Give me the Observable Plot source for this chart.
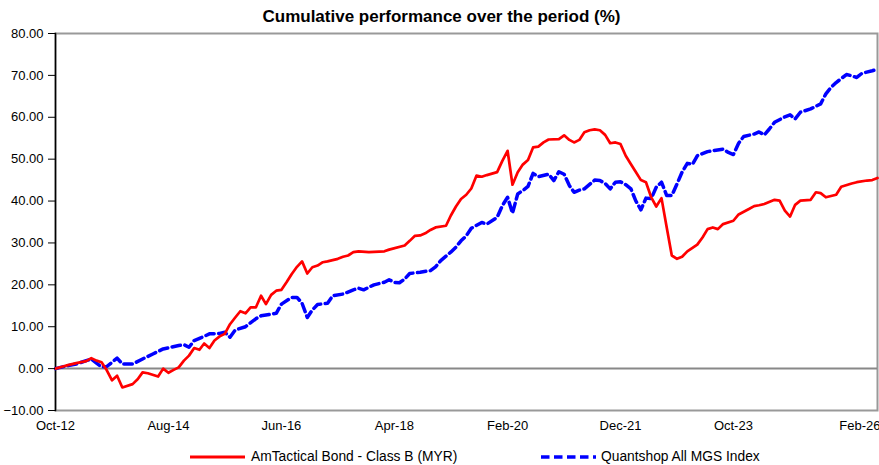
<!DOCTYPE html>
<html><head><meta charset="utf-8">
<script src="https://cdn.jsdelivr.net/npm/d3@7"></script>
<script src="https://cdn.jsdelivr.net/npm/@observablehq/plot@0.6"></script>
<style>
body{margin:0;background:#fff;font-family:"Liberation Sans",Arial,sans-serif;}
#wrap{width:879px;height:465px;position:relative;overflow:hidden;background:#fff}
#title{height:30px;line-height:33px;text-align:center;font-weight:bold;font-size:17px;color:#000;padding-left:4px}
#legend{position:relative;height:20px;font-size:13.8px;color:#000}
.item{position:absolute;top:3px;height:18px;line-height:18px;white-space:nowrap}
.item svg{position:absolute;top:0}
</style></head><body>
<div id="wrap">
<div id="title">Cumulative performance over the period (%)</div>
<div id="chart"></div>
<div id="legend"></div>
</div>
<script>
const seriesNames = ["AmTactical Bond - Class B (MYR)", "Quantshop All MGS Index"];
const seriesColors = ["#ff0000", "#0000ff"];

const fundMonths = ["2012-10","2012-12","2013-02","2013-04","2013-05","2013-06","2013-07","2013-08","2013-09","2013-10","2013-11","2014-01","2014-02","2014-03","2014-04","2014-06","2014-07","2014-08","2014-09","2014-10","2014-11","2014-12","2015-01","2015-02","2015-03","2015-04","2015-05","2015-06","2015-07","2015-08","2015-09","2015-10","2015-11","2015-12","2016-01","2016-02","2016-03","2016-04","2016-05","2016-06","2016-07","2016-08","2016-09","2016-10","2016-11","2016-12","2017-01","2017-02","2017-03","2017-05","2017-06","2017-07","2017-08","2017-09","2017-11","2018-02","2018-03","2018-06","2018-07","2018-08","2018-09","2018-10","2018-11","2018-12","2019-02","2019-03","2019-04","2019-05","2019-06","2019-07","2019-08","2019-09","2019-10","2019-12","2020-01","2020-02","2020-03","2020-04","2020-05","2020-06","2020-07","2020-08","2020-09","2020-10","2020-12","2021-01","2021-02","2021-03","2021-04","2021-05","2021-06","2021-07","2021-08","2021-09","2021-10","2021-11","2021-12","2022-01","2022-02","2022-03","2022-04","2022-05","2022-06","2022-07","2022-08","2022-09","2022-10","2022-11","2022-12","2023-01","2023-03","2023-04","2023-05","2023-06","2023-07","2023-08","2023-10","2023-11","2024-01","2024-02","2024-03","2024-04","2024-06","2024-07","2024-08","2024-09","2024-10","2024-11","2025-01","2025-02","2025-03","2025-04","2025-06","2025-07","2025-09","2025-10","2025-12","2026-01","2026-02"];
const fundValues = [0.0,0.7,1.3,1.8,2.5,1.9,1.5,-0.4,-2.8,-1.7,-4.5,-3.7,-2.5,-0.9,-1.1,-1.9,0.0,-1.0,-0.3,0.3,1.9,3.1,4.9,4.5,6.0,4.9,6.7,7.7,8.3,10.6,12.2,13.7,13.2,14.6,14.6,17.4,15.4,17.6,18.6,18.8,20.6,22.6,24.3,25.6,22.7,24.2,24.6,25.4,25.6,26.2,26.7,27.0,27.8,28.0,27.8,28.0,28.4,29.4,30.5,31.7,31.8,32.3,33.1,33.7,34.1,36.5,38.7,40.5,41.5,43.0,46.1,45.8,46.2,46.9,49.6,52.0,43.9,46.9,48.7,49.8,52.8,53.0,54.0,54.7,54.8,55.7,54.6,54.0,54.6,56.4,56.9,57.1,56.9,55.8,53.8,54.0,53.6,50.8,48.8,47.0,45.0,44.5,40.9,38.7,40.7,33.7,27.0,26.2,26.7,28.0,29.6,31.3,33.3,33.7,33.3,34.5,35.3,36.8,38.1,38.8,39.0,39.3,40.3,40.1,37.7,36.3,39.1,40.1,40.3,42.1,41.9,40.9,41.5,43.4,44.2,44.5,44.9,45.0,45.5];

const indexMonths = ["2012-10","2012-12","2013-02","2013-04","2013-05","2013-06","2013-07","2013-08","2013-10","2013-11","2014-01","2014-03","2014-05","2014-07","2014-10","2014-11","2014-12","2015-01","2015-03","2015-04","2015-06","2015-07","2015-08","2015-09","2015-11","2016-01","2016-02","2016-05","2016-06","2016-08","2016-09","2016-10","2016-11","2016-12","2017-01","2017-03","2017-04","2017-06","2017-08","2017-09","2017-10","2017-12","2018-02","2018-03","2018-04","2018-05","2018-06","2018-07","2018-09","2018-11","2018-12","2019-01","2019-03","2019-04","2019-05","2019-06","2019-07","2019-09","2019-10","2019-12","2020-01","2020-02","2020-03","2020-04","2020-05","2020-06","2020-07","2020-08","2020-10","2020-11","2020-12","2021-01","2021-02","2021-03","2021-04","2021-05","2021-07","2021-08","2021-09","2021-10","2021-11","2021-12","2022-01","2022-02","2022-03","2022-04","2022-05","2022-06","2022-07","2022-08","2022-09","2022-10","2022-11","2022-12","2023-01","2023-02","2023-03","2023-05","2023-06","2023-08","2023-09","2023-10","2023-11","2023-12","2024-02","2024-03","2024-04","2024-05","2024-06","2024-08","2024-09","2024-10","2024-11","2025-01","2025-03","2025-04","2025-05","2025-06","2025-08","2025-09","2025-10","2025-11","2026-01","2026-02"];
const indexValues = [0.0,0.6,1.1,1.9,2.3,1.3,0.4,0.5,2.5,1.1,1.1,2.3,3.5,4.7,5.5,5.7,5.1,6.7,7.7,8.3,8.4,8.7,7.5,9.2,10.0,11.9,12.6,13.2,15.4,17.0,17.0,15.6,12.2,14.0,15.3,15.6,17.4,17.8,18.8,19.2,18.8,20.0,20.6,21.2,20.6,20.5,21.4,22.7,23.0,23.4,24.3,25.8,27.8,29.0,30.5,31.7,33.5,34.9,34.5,36.1,38.9,40.9,37.1,41.7,42.5,43.5,46.6,45.8,46.4,44.9,47.0,46.4,43.7,42.1,42.6,42.9,45.0,44.9,44.2,42.9,44.5,44.6,43.9,42.9,40.1,37.9,40.7,40.6,43.3,44.5,41.3,41.3,44.1,46.9,49.0,48.8,50.8,51.8,52.0,52.4,51.6,51.1,53.8,55.4,56.0,56.5,55.8,57.2,58.8,60.1,60.6,59.6,61.2,62.0,63.2,65.6,67.1,68.3,70.2,69.9,69.5,70.5,71.1,71.5];

const tickMonths = ["2012-10","2014-08","2016-06","2018-04","2020-02","2021-12","2023-10"];
const tickLabels = ["Oct-12","Aug-14","Jun-16","Apr-18","Feb-20","Dec-21","Oct-23"];
const endTickMonth = "2026-02";
const endTickLabel = "Feb-26";
const yTicks = [-10,0,10,20,30,40,50,60,70,80];

const parse = d3.utcParse("%Y-%m");
const fund = fundMonths.map((m,i)=>({date:parse(m), value:fundValues[i]}));
const index = indexMonths.map((m,i)=>({date:parse(m), value:indexValues[i]}));
const tickDates = tickMonths.map(parse);
const labelOf = new Map(tickDates.map((d,i)=>[+d, tickLabels[i]]));

const font = '"Liberation Sans", Arial, sans-serif';
const chart = Plot.plot({
  width: 879,
  height: 415,
  marginTop: 3,
  marginBottom: 35,
  marginLeft: 55,
  marginRight: 2,
  style: {fontFamily: font, fontSize: "13px", color: "#000", background: "#fff", overflow: "visible"},
  x: {type: "utc", domain: [parse(fundMonths[0]), parse(endTickMonth)]},
  y: {domain: [-10, 80]},
  marks: [
    Plot.frame({stroke: "#999", strokeWidth: 2}),
    Plot.ruleY([0], {stroke: "#888", strokeWidth: 2}),
    Plot.frame({anchor: "left", stroke: "#000", strokeWidth: 1.5}),
    Plot.line(index, {x: "date", y: "value", stroke: seriesColors[1], strokeWidth: 3.5, strokeDasharray: "8.5,4.5", strokeLinejoin: "round"}),
    Plot.line(fund, {x: "date", y: "value", stroke: seriesColors[0], strokeWidth: 2.7, strokeLinejoin: "round"}),
    Plot.axisY({ticks: yTicks, tickFormat: d3.format(".2f"), tickSize: 7, tickPadding: 5, label: null, stroke: "#000"}),
    Plot.axisX({ticks: tickDates, tickFormat: d => labelOf.get(+d), tickSize: 0, tickPadding: 10, label: null}),
    Plot.axisX({ticks: [parse(endTickMonth)], tickFormat: () => endTickLabel, tickSize: 0, tickPadding: 10, textAnchor: "end", dx: 3, label: null})
  ]
});
document.getElementById("chart").appendChild(chart);

const legend = document.getElementById("legend");
const legendX = [[190, 251], [541, 601]];
seriesNames.forEach((name, i) => {
  const sw = document.createElement("div");
  sw.className = "item";
  sw.style.left = legendX[i][0] + "px";
  sw.style.width = "57px";
  sw.innerHTML = `<svg width="57" height="18"><line x1="0" x2="55" y1="9" y2="9" stroke="${seriesColors[i]}" stroke-width="${i ? 3.5 : 3}" ${i ? 'stroke-dasharray="8.5,4.5"' : ''}/></svg>`;
  legend.appendChild(sw);
  const t = document.createElement("div");
  t.className = "item";
  t.style.left = legendX[i][1] + "px";
  t.textContent = name;
  legend.appendChild(t);
});
</script>
</body></html>
